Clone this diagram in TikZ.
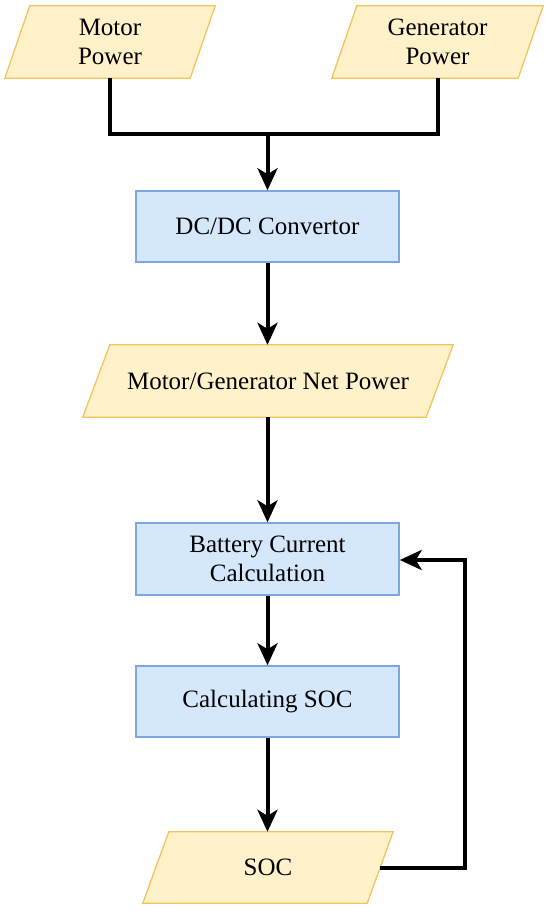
\documentclass[tikz,border=0pt]{standalone}
\usepackage{fontspec}
\setmainfont{Liberation Serif}
\usetikzlibrary{arrows.meta,calc}
\definecolor{yfill}{HTML}{FFF1C9}
\definecolor{ydraw}{HTML}{F2C45E}
\definecolor{bfill}{HTML}{D5E7FB}
\definecolor{bdraw}{HTML}{7EA6E0}
\tikzset{
  txt/.style={font=\fontsize{25}{28.5}\selectfont, align=center, inner sep=0pt},
  procbox/.style={txt, draw=bdraw, fill=bfill, line width=1.5pt, minimum width=263pt, minimum height=71pt},
  iobox/.style={txt, minimum height=72pt},
  iodraw/.style={draw=ydraw, fill=yfill, line width=1.3pt},
  conn/.style={line width=4pt, -{Stealth[length=22pt,width=20pt,inset=6pt]}},
  wire/.style={line width=4pt},
}
\newcommand{\para}[2]{%
  \fill[yfill] ([xshift=#2]#1.north west) -- (#1.north east) -- ([xshift=-#2]#1.south east) -- (#1.south west) -- cycle;
  \draw[iodraw,fill=none] ([xshift=#2]#1.north west) -- (#1.north east) -- ([xshift=-#2]#1.south east) -- (#1.south west) -- cycle;}
\begin{document}
\begin{tikzpicture}[x=1pt,y=-1pt]
\useasboundingbox (0,0) rectangle (550,911);
% parallelogram placeholders (text drawn later on top)
\path node[iobox, minimum width=210pt] (mp) at (110,42) {\phantom{Motor}};
\path node[iobox, minimum width=211pt] (gp) at (437.5,42) {\phantom{Generator}};
\path node[iobox, minimum width=370pt] (np) at (268,381) {\phantom{Net}};
\path node[iobox, minimum width=250pt, minimum height=71pt] (soc) at (268,867.5) {\phantom{SOC}};
\para{mp}{25pt}
\para{gp}{25pt}
\para{np}{27pt}
\para{soc}{26pt}
\node[txt] at (mp.center) {Motor\\Power};
\node[txt] at (gp.center) {Generator\\Power};
\node[txt] at (np.center) {Motor/Generator Net Power};
\node[txt] at (soc.center) {SOC};
% process boxes
\node[procbox] (dc) at (267.5,226.5) {DC/DC Convertor};
\node[procbox, minimum height=72pt] (bat) at (267.5,559) {Battery Current\\Calculation};
\node[procbox] (cal) at (267.5,701.5) {Calculating SOC};
% connectors
\coordinate (j) at (267.5,134);
\coordinate (fb) at (465,560);
\draw[wire] (mp.south) |- (j) -| (gp.south);
\draw[conn] (j) -- (dc.north);
\draw[conn] (dc.south) -- (dc.south |- np.north);
\draw[conn] (np.south -| bat.north) -- (bat.north);
\draw[conn] (bat.south) -- (cal.north);
\draw[conn] (cal.south) -- (cal.south |- soc.north);
\draw[conn] ([xshift=-13pt]soc.east) -| (fb) -- (bat.east |- fb);
\end{tikzpicture}
\end{document}
